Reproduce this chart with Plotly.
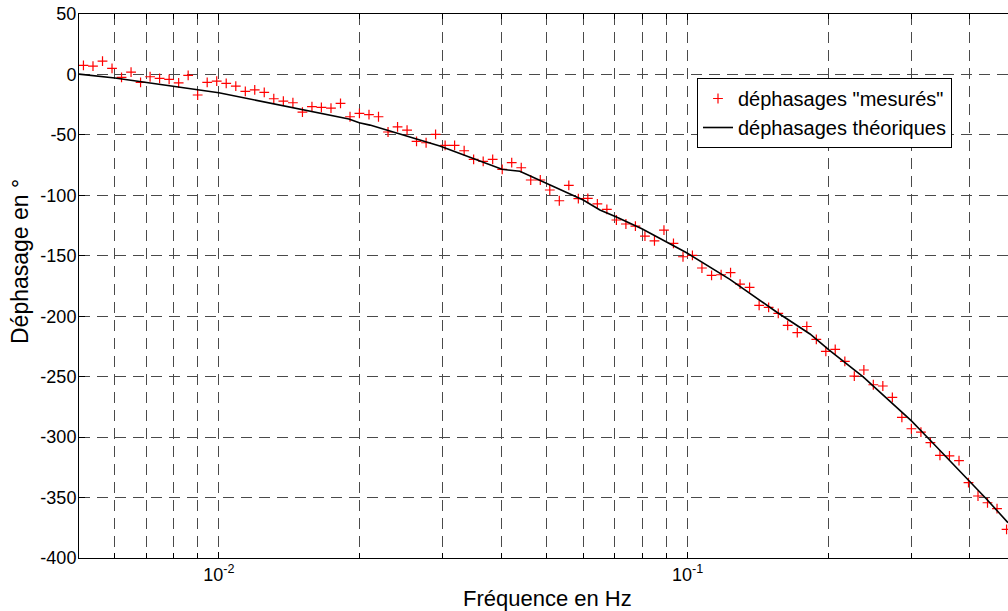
import numpy as np
import plotly.graph_objects as go

# Measured phase shifts (red "+")
freq_mes = [0.005143, 0.005390, 0.005648, 0.005918, 0.006201, 0.006498, 0.006809, 0.007135,
            0.007476, 0.007834, 0.008209, 0.008602, 0.009013, 0.009445, 0.009897, 0.01037,
            0.01087, 0.01139, 0.01193, 0.01250, 0.01310, 0.01373, 0.01439, 0.01508,
            0.01580, 0.01655, 0.01735, 0.01818, 0.01905, 0.01995, 0.02091, 0.02191,
            0.02296, 0.02406, 0.02521, 0.02641, 0.02768, 0.02900, 0.03039, 0.03184,
            0.03337, 0.03496, 0.03664, 0.03839, 0.04023, 0.04215, 0.04417, 0.04628,
            0.04850, 0.05082, 0.05325, 0.05580, 0.05847, 0.06126, 0.06420, 0.06727,
            0.07049, 0.07386, 0.07739, 0.08110, 0.08498, 0.08904, 0.09330, 0.09777,
            0.1024, 0.1073, 0.1125, 0.1179, 0.1235, 0.1294, 0.1356, 0.1421,
            0.1489, 0.1561, 0.1635, 0.1714, 0.1796, 0.1882, 0.1972, 0.2065,
            0.2165, 0.2268, 0.2377, 0.2490, 0.2609, 0.2734, 0.2865, 0.3002,
            0.3146, 0.3296, 0.3454, 0.3619, 0.3793, 0.3974, 0.4164, 0.4363,
            0.4572, 0.4791]
phase_mes = [7.5, 6.9, 11.1, 5.0, -2.4, 2.0, -6.5, -1.9, -3.2, -4.1, -6.9, -0.7, -17.0, -6.5,
             -5.5, -7.4, -9.6, -14.0, -12.7, -14.8, -20.1, -22.0, -23.4, -31.1, -26.7, -27.2,
             -27.8, -23.9, -35.0, -32.2, -33.3, -35.0, -47.6, -43.3, -46.0, -55.3, -56.5, -49.5,
             -58.6, -58.6, -63.1, -70.2, -71.9, -70.2, -78.5, -73.0, -77.2, -87.3, -87.3, -95.6,
             -104.5, -91.7, -102.8, -102.5, -107.0, -111.6, -120.4, -123.7, -125.4, -133.7,
             -137.6, -128.7, -139.7, -150.8, -149.6, -160.1, -166.2, -165.7, -164.0, -173.4,
             -176.1, -191.0, -192.6, -197.6, -207.5, -213.6, -208.5, -219.1, -229.0, -227.4,
             -237.3, -249.5, -244.5, -256.7, -257.7, -267.1, -283.6, -293.1, -295.8, -304.6,
             -315.1, -315.6, -319.5, -337.7, -348.7, -354.3, -359.2, -376.3]

# Theoretical phase shifts (black line)
freq_th = [0.005032, 0.006002, 0.01, 0.01506, 0.01894, 0.01993, 0.02101, 0.02961, 0.04017,
           0.04387, 0.05003, 0.05989, 0.06501, 0.07031, 0.07988, 0.09952, 0.1231, 0.1548,
           0.1824, 0.2005, 0.2369, 0.2999, 0.3289, 0.4002, 0.4346, 0.4825]
phase_th = [0.3, -3.0, -15.1, -28.9, -36.9, -40.0, -41.9, -59.2, -78.5,
            -80.1, -90.1, -103.9, -112.1, -117.7, -127.6, -147.5, -169.5, -196.5,
            -214.7, -228.0, -250.1, -286.4, -302.4, -337.1, -351.4, -370.8]

x_tickvals = [0.01, 0.1]
x_ticktext = ["10<sup>-2</sup>", "10<sup>-1</sup>"]
x_minor_vals = [0.006, 0.007, 0.008, 0.009, 0.02, 0.03, 0.04, 0.05, 0.06, 0.07, 0.08, 0.09,
                0.2, 0.3, 0.4]
y_tickvals = [-400, -350, -300, -250, -200, -150, -100, -50, 0, 50]
y_ticktext = ["-400", "-350", "-300", "-250", "-200", "-150", "-100", "-50", "0", "50"]

FONT = "Liberation Sans, Arial, Helvetica, sans-serif"
GRID = "#4a4a4a"
DASH = "11px,7px"

L, T, B, W, H = 79, 14, 53, 1008, 611
PW, PH = W - L, H - T - B

fig = go.Figure()
fig.add_trace(go.Scatter(
    x=freq_mes, y=phase_mes, mode="markers", name='déphasages "mesurés"',
    marker=dict(symbol="cross-thin", size=7, color="red", line=dict(width=1.2, color="red")),
))
fig.add_trace(go.Scatter(
    x=freq_th, y=phase_th, mode="lines", name="déphasages théoriques",
    line=dict(color="black", width=1.6),
))

fig.update_layout(
    width=W, height=H,
    margin=dict(l=L, r=0, t=T, b=B, autoexpand=False),
    paper_bgcolor="white", plot_bgcolor="white",
    font=dict(family=FONT, size=18, color="black"),
    showlegend=True,
    legend=dict(
        x=(697 - L) / PW, y=(558 - 78) / PH, xanchor="left", yanchor="top",
        bgcolor="white", bordercolor="black", borderwidth=1,
        font=dict(family=FONT, size=20, color="black"),
    ),
    xaxis=dict(
        type="log", range=[np.log10(0.005032), np.log10(0.4825)],
        tickmode="array", tickvals=x_tickvals, ticktext=x_ticktext,
        showgrid=True, gridcolor=GRID, gridwidth=1, griddash=DASH,
        minor=dict(tickmode="array", tickvals=x_minor_vals, showgrid=True,
                   gridcolor=GRID, gridwidth=1, griddash=DASH,
                   ticks="inside", ticklen=5, tickcolor="black"),
        ticks="inside", ticklen=6, tickcolor="black",
        showline=True, linecolor="black", linewidth=1, mirror="ticks",
        zeroline=False, automargin=False,
        tickfont=dict(family=FONT, size=18),
    ),
    yaxis=dict(
        range=[-400, 50], tickmode="array", tickvals=y_tickvals, ticktext=y_ticktext,
        showgrid=True, gridcolor=GRID, gridwidth=1, griddash=DASH,
        ticks="inside", ticklen=6, tickcolor="black",
        showline=True, linecolor="black", linewidth=1, mirror=False,
        zeroline=False, automargin=False, ticklabelstandoff=-2,
        tickfont=dict(family=FONT, size=18),
    ),
    annotations=[
        dict(text="Fréquence en Hz", xref="paper", yref="paper",
             x=(547 - L) / PW, y=(558 - 598) / PH, xanchor="center", yanchor="middle",
             showarrow=False, font=dict(family=FONT, size=22)),
        dict(text="Déphasage en °", xref="paper", yref="paper", textangle=-90,
             x=(20 - L) / PW, y=(558 - 262) / PH, xanchor="center", yanchor="middle",
             showarrow=False, font=dict(family=FONT, size=23)),
    ],
)

fig.write_html(
    "out.html",
    config={"displayModeBar": False},
    post_script="document.body.style.margin='0';document.body.style.overflow='hidden';",
)
